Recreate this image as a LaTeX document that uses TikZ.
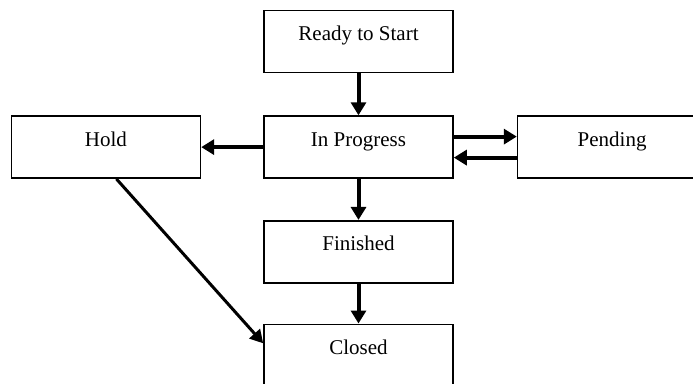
\documentclass[tikz,border=0pt]{standalone}
\usepackage{fontspec}
\setmainfont{Liberation Serif}
\usepackage{tikz}
\usetikzlibrary{positioning}
\usetikzlibrary{arrows.meta}

\tikzset{
  state/.style={draw, line width=1.6pt, inner sep=0pt, minimum width=189pt,
    text height=30pt, text depth=32pt, font=\fontsize{21}{25}\selectfont},
  flow/.style={line width=4pt, -{Triangle[width=15pt,length=13pt]}}
}

\begin{document}
\begin{tikzpicture}
\useasboundingbox (0,0) rectangle (693pt,-383pt);

% boxes
\node[state] (ready) at (358.5pt,-41.5pt) {Ready to Start};
\node[state, below=42pt of ready] (inprogress) {In Progress};
\node[state, left=62pt of inprogress] (hold) {Hold};
\node[state, right=63pt of inprogress] (pending) {Pending};
\node[state, below=41pt of inprogress] (finished) {Finished};
\node[state, below=40pt of finished] (closed) {Closed};

% arrows
\draw[flow] (ready) -- (inprogress);
\draw[flow] (inprogress) -- (hold);
\draw[flow] ([yshift=10.5pt]inprogress.east) -- ([yshift=10.5pt]pending.west);
\draw[flow] ([yshift=-10.5pt]pending.west) -- ([yshift=-10.5pt]inprogress.east);
\draw[flow] (inprogress) -- (finished);
\draw[flow] (finished) -- (closed);
\draw[line width=3pt, -{Triangle[width=14pt,length=13pt]}] ([xshift=10.5pt]hold.south) -- ([yshift=12pt]closed.west);

\end{tikzpicture}
\end{document}
